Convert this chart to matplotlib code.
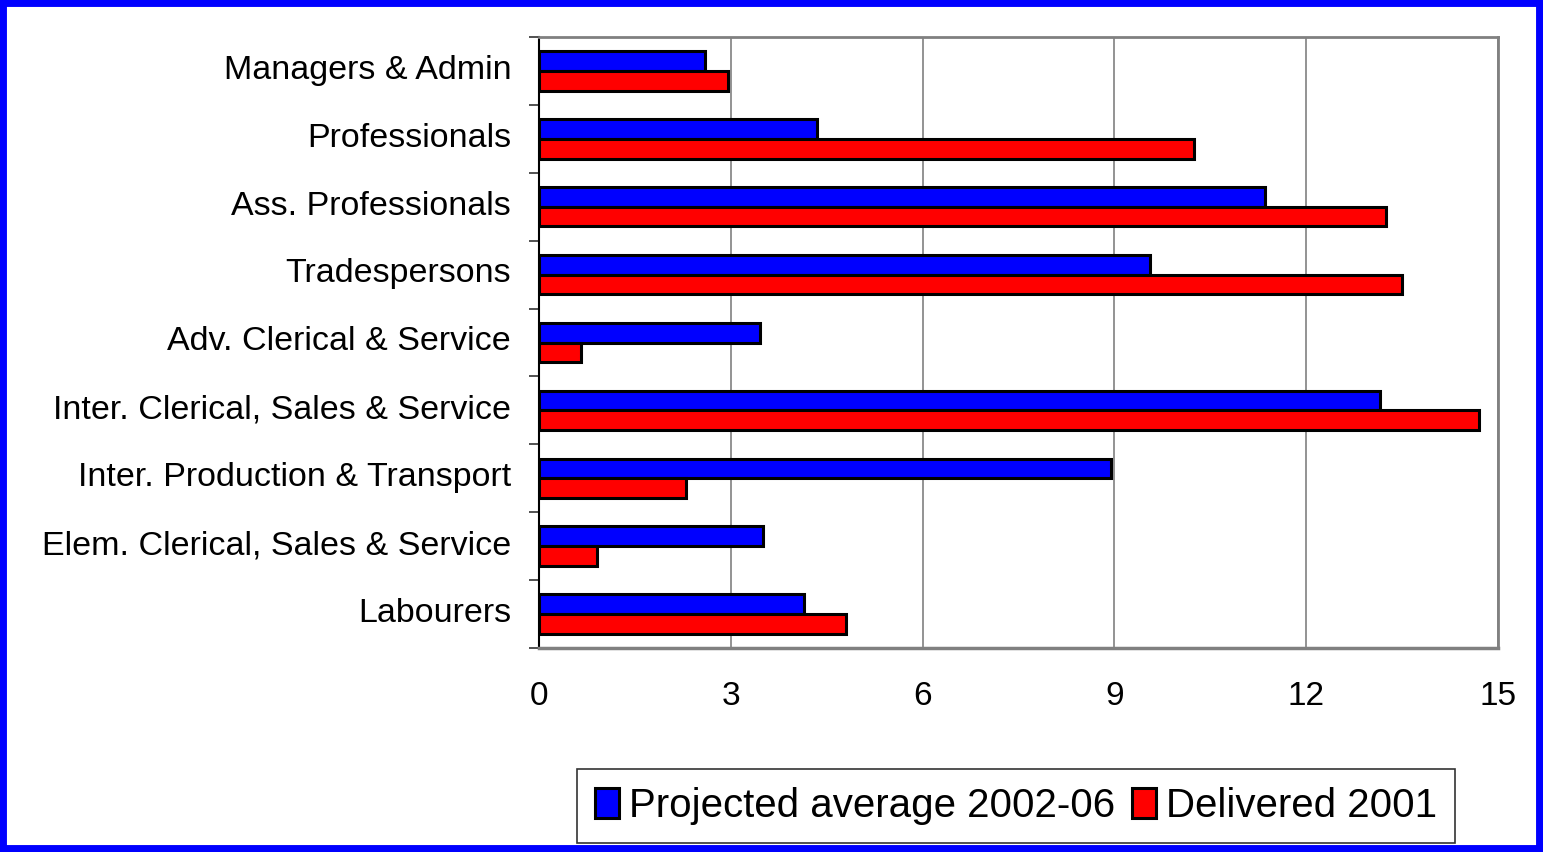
import matplotlib.pyplot as plt
import matplotlib.transforms as mtransforms
import numpy as np
from matplotlib.patches import Rectangle

plt.rcParams['font.family'] = ['Liberation Sans', 'DejaVu Sans']

# occupations, listed top to bottom
categories = ['Managers & Admin', 'Professionals', 'Ass. Professionals',
              'Tradespersons', 'Adv. Clerical & Service',
              'Inter. Clerical, Sales & Service', 'Inter. Production & Transport',
              'Elem. Clerical, Sales & Service', 'Labourers']
projected = [2.6, 4.35, 11.35, 9.55, 3.45, 13.15, 8.95, 3.5, 4.15]
delivered = [2.95, 10.25, 13.25, 13.5, 0.65, 14.7, 2.3, 0.9, 4.8]
x_ticks = [0, 3, 6, 9, 12, 15]

fig = plt.figure(figsize=(15.43, 8.52), dpi=100)
ax = fig.add_axes([0.3493, 0.2394, 0.6215, 0.7172])

y = np.arange(len(categories))
h = 0.29
ax.barh(y - h / 2, projected, height=h, color='#0000ff', edgecolor='black',
        linewidth=2.2, label='Projected average 2002-06', zorder=3)
ax.barh(y + h / 2, delivered, height=h, color='#ff0000', edgecolor='black',
        linewidth=2.2, label='Delivered 2001', zorder=3)

ax.set_xlim(0, 15)
ax.set_ylim(len(categories) - 0.5, -0.5)
ax.set_xticks(x_ticks)
ax.set_xticklabels([str(t) for t in x_ticks], fontsize=24)
ax.tick_params(axis='x', length=0, pad=24)

# labels at centres, tick marks at boundaries
ax.set_yticks(y)
ax.set_yticklabels(categories, fontsize=24.5)
ax.tick_params(axis='y', which='major', length=0, pad=20)
# labels sit a little above the centre in the original
shift = mtransforms.ScaledTranslation(0, 3 / 72, fig.dpi_scale_trans)
for lab in ax.get_yticklabels():
    lab.set_transform(lab.get_transform() + shift)
ax.set_yticks(np.arange(len(categories) + 1) - 0.5, minor=True)
ax.tick_params(axis='y', which='minor', length=7, width=1.2, color='#333333')

ax.grid(axis='x', color='#808080', linewidth=1.2, zorder=0)
for s in ['top', 'right']:
    ax.spines[s].set_color('#808080')
    ax.spines[s].set_linewidth(2)
ax.spines['bottom'].set_color('#808080')
ax.spines['bottom'].set_linewidth(2.5)
ax.spines['left'].set_color('black')
ax.spines['left'].set_linewidth(1.5)

leg = fig.legend(loc='center', bbox_to_anchor=(0.6585, 0.054), ncol=2,
                 fontsize=29, frameon=True, fancybox=False, edgecolor='black',
                 handlelength=0.6, handleheight=0.8, handletextpad=0.25,
                 columnspacing=0.4, borderpad=0.45)
leg.get_frame().set_linewidth(1.2)

# blue border round the whole picture
fig.patches.append(Rectangle((0, 0), 1, 1, transform=fig.transFigure,
                             fill=False, edgecolor='#0000ff', linewidth=10))

fig.savefig('out.png', dpi=100)
